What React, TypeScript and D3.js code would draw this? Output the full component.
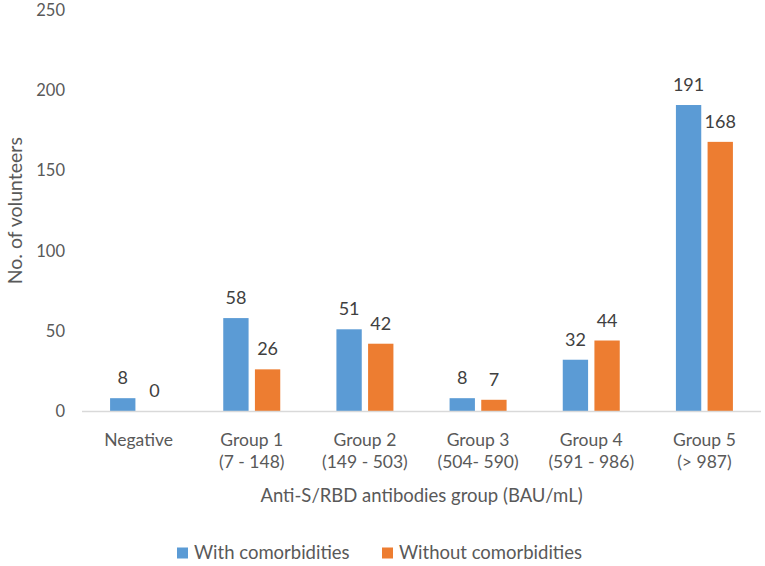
import { useEffect } from 'react';
import * as d3 from 'd3';

const CATEGORIES = ['Negative', 'Group 1', 'Group 2', 'Group 3', 'Group 4', 'Group 5'];
const RANGES = ['', '(7 - 148)', '(149  - 503)', '(504- 590)', '(591 - 986)', '(> 987)'];
const SERIES = ['With comorbidities', 'Without comorbidities'];
const WITH_COMORB = [8, 58, 51, 8, 32, 191];
const WITHOUT_COMORB = [0, 26, 42, 7, 44, 168];
const Y_TICKS = [0, 50, 100, 150, 200, 250];

const WIDTH = 765;
const HEIGHT = 566;
const COLORS = ['#5B9BD5', '#ED7D31'];
const FONT = 'Lato, "Open Sans", sans-serif';
const TEXT = '#595959';

export default function App() {
  useEffect(() => {
    document.body.style.margin = '0';
  }, []);

  const x0 = d3.scaleBand<string>().domain(CATEGORIES).range([82, 761]);
  const groupW = 57;
  const x1 = d3.scaleBand<string>().domain(SERIES).range([0, groupW]).paddingInner(0.2);
  const y = d3.scaleLinear().domain([0, 250]).range([411, 10.5]);
  const values = [WITH_COMORB, WITHOUT_COMORB];

  return (
    <svg width={WIDTH} height={HEIGHT} style={{ display: 'block' }} fontFamily={FONT}>
      <rect width={WIDTH} height={HEIGHT} fill="#fff" />

      {/* y ticks */}
      {Y_TICKS.map((t) => (
        <text key={t} x={65} y={y(t)} dy="0.35em" textAnchor="end" fontSize={16.5} fill={TEXT}>
          {t}
        </text>
      ))}
      <text
        transform={`translate(15,${(y(0) + y(250)) / 2}) rotate(-90)`}
        textAnchor="middle"
        dy="0.35em"
        fontSize={19.5}
        fill={TEXT}
      >
        No. of volunteers
      </text>

      {/* bars */}
      {CATEGORIES.map((c, i) => {
        const gx = x0(c)! + (x0.bandwidth() - groupW) / 2;
        return (
          <g key={c} transform={`translate(${gx},0)`}>
            {SERIES.map((s, j) => {
              const v = values[j][i];
              const bx = x1(s)!;
              return (
                <g key={s}>
                  <rect
                    x={bx}
                    y={y(v)}
                    width={x1.bandwidth()}
                    height={y(0) - y(v)}
                    fill={COLORS[j]}
                  />
                  <text
                    x={bx + x1.bandwidth() / 2}
                    y={y(v) - 14}
                    textAnchor="middle"
                    fontSize={18}
                    fill="#404040"
                  >
                    {v}
                  </text>
                </g>
              );
            })}
          </g>
        );
      })}

      {/* x axis */}
      <line x1={82} x2={761} y1={y(0) + 0.5} y2={y(0) + 0.5} stroke="#D9D9D9" strokeWidth={1.5} />
      {CATEGORIES.map((c, i) => {
        const cx = x0(c)! + x0.bandwidth() / 2;
        return (
          <text key={c} x={cx} y={446} textAnchor="middle" fontSize={17.5} fill={TEXT}>
            <tspan x={cx}>{c}</tspan>
            {RANGES[i] && (
              <tspan x={cx} dy={22}>
                {RANGES[i]}
              </tspan>
            )}
          </text>
        );
      })}
      <text x={(82 + 761) / 2} y={502} textAnchor="middle" fontSize={18.5} fill={TEXT}>
        Anti-S/RBD antibodies group (BAU/mL)
      </text>

      {/* legend */}
      {SERIES.map((s, j) => {
        const lx = j === 0 ? 177 : 382;
        return (
          <g key={s}>
            <rect x={lx} y={547.5} width={11} height={11} fill={COLORS[j]} />
            <text x={lx + 17} y={553} dy="0.35em" fontSize={18.5} fill={TEXT}>
              {s}
            </text>
          </g>
        );
      })}
    </svg>
  );
}
